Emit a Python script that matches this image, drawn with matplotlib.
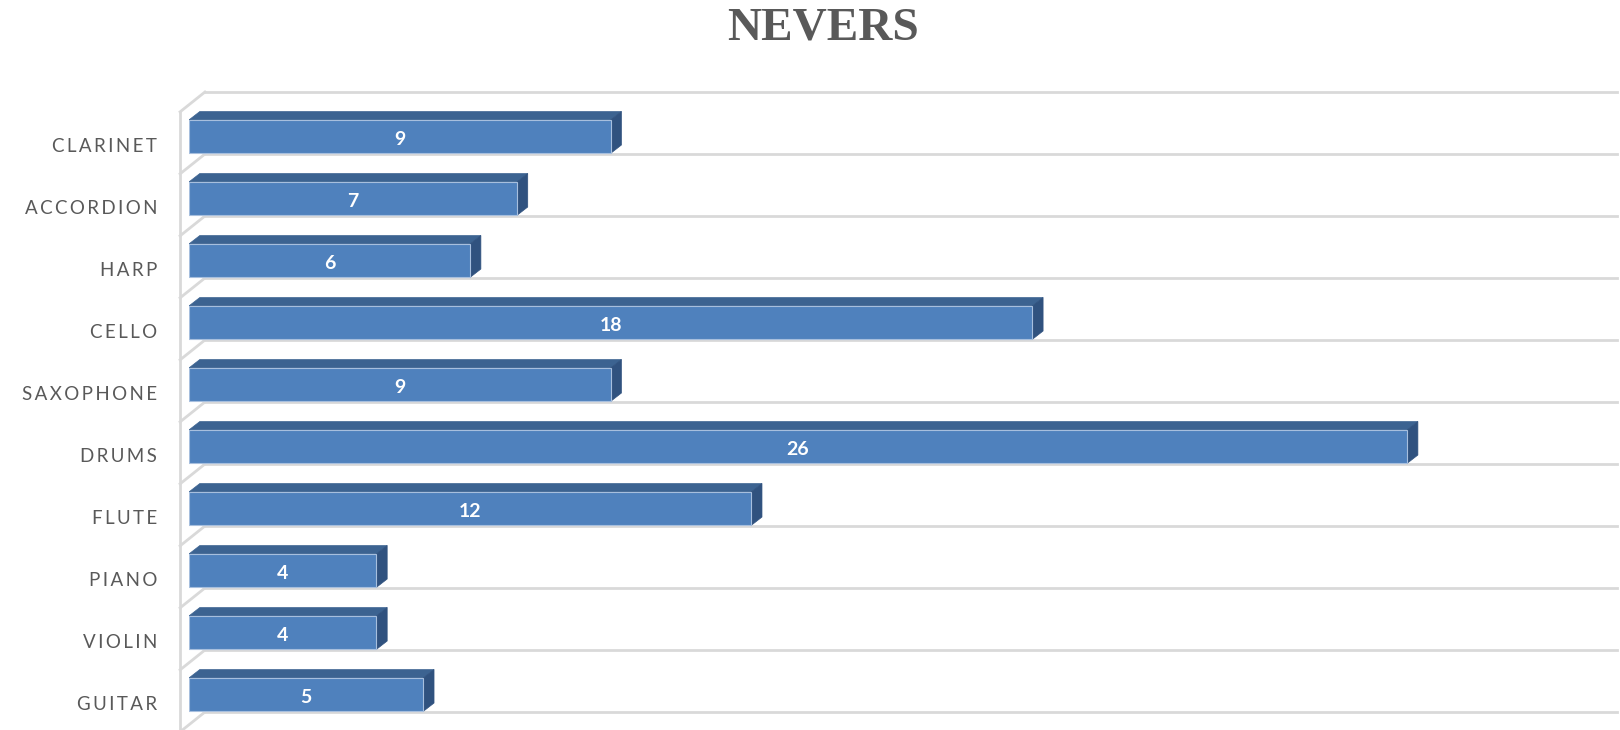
import matplotlib.pyplot as plt
from matplotlib.patches import Polygon

# instruments, top to bottom as shown
instruments = ['CLARINET', 'ACCORDION', 'HARP', 'CELLO', 'SAXOPHONE',
               'DRUMS', 'FLUTE', 'PIANO', 'VIOLIN', 'GUITAR']
counts = [9, 7, 6, 18, 9, 26, 12, 4, 4, 5]

# bottom-up order for the axis
cats = instruments[::-1]
vals = counts[::-1]
pos = list(range(len(cats)))

front = '#4F81BD'
top = '#3C6391'
side = '#30527F'
grid = '#D9D9D9'
text_grey = '#595959'

bar_h = 0.54
dx, dy = 0.23, 0.135          # depth of the 3D look
wall_dx, wall_dy = 0.53, 0.32  # left wall diagonal

fig = plt.figure(figsize=(16.2, 7.3), dpi=100)
ax = fig.add_axes([189 / 1620, 0, (1617 - 189) / 1620, 638 / 730])
ax.set_xlim(0, 30.48)
ax.set_ylim(-0.29, 10.0)
for s in ax.spines.values():
    s.set_visible(False)
ax.set_xticks([])

# back wall gridlines and left wall
for i in range(len(cats) + 1):
    ax.plot([wall_dx - 0.19, 30.48], [i, i], color=grid, lw=2, zorder=1, clip_on=False)
    ax.plot([-0.19, wall_dx - 0.19], [i - wall_dy, i], color=grid, lw=2, zorder=1, clip_on=False)
ax.plot([-0.19, -0.19], [-0.4, 10 - wall_dy], color=grid, lw=2, zorder=1, clip_on=False)

# bars: front faces
y0 = [p + 0.01 for p in pos]
ax.barh(y0, vals, height=bar_h, left=0, align='edge', color=front,
        edgecolor='#A7BFDE', linewidth=0.8, zorder=3)

# top and side faces
for y, v in zip(y0, vals):
    yt = y + bar_h
    ax.add_patch(Polygon([(0, yt), (v, yt), (v + dx, yt + dy), (dx, yt + dy)],
                         closed=True, facecolor=top, edgecolor=top, lw=0.5, zorder=2))
    ax.add_patch(Polygon([(v, y), (v + dx, y + dy), (v + dx, yt + dy), (v, yt)],
                         closed=True, facecolor=side, edgecolor=side, lw=0.5, zorder=2))
    ax.text(v / 2, y + bar_h / 2 - 0.05, str(v), color='white', fontsize=14,
            fontweight='bold', family=['Lato', 'DejaVu Sans'],
            ha='center', va='center', zorder=4)

# spaced category labels
ax.set_yticks([p + 0.15 for p in pos])
ax.set_yticklabels(['\u2009'.join(c) for c in cats], family=['Lato', 'DejaVu Sans'],
                   fontsize=13.5, color=text_grey)
ax.tick_params(axis='y', length=0, pad=23)

fig.text(823 / 1620, 1 - 28 / 730, 'NEVERS', ha='center', va='center',
         fontsize=34, fontweight='bold', family='Liberation Serif', color=text_grey)

fig.savefig('out.png', dpi=100, facecolor='white')
